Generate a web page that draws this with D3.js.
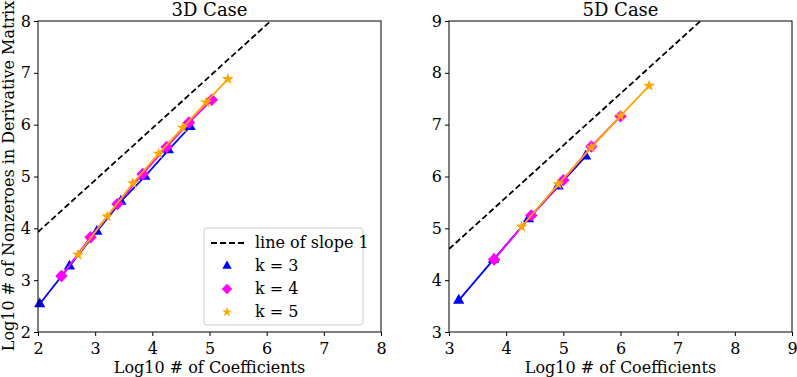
<!DOCTYPE html>
<html>
<head>
<meta charset="utf-8">
<script src="https://cdn.jsdelivr.net/npm/d3@7"></script>
<style>
  body { margin: 0; background: #fff; }
  svg text { font-family: "DejaVu Serif", serif; fill: #000; }
</style>
</head>
<body>
<svg id="chart" width="797" height="377"></svg>
<script>
// 3D case
var x3d_k3 = [2.03, 2.55, 3.03, 3.45, 3.87, 4.28, 4.66];
var y3d_k3 = [2.54, 3.27, 3.94, 4.52, 5.00, 5.51, 5.96];
var x3d_k4 = [2.41, 2.92, 3.39, 3.83, 4.25, 4.64, 5.04];
var y3d_k4 = [3.08, 3.83, 4.47, 5.05, 5.57, 6.04, 6.48];
var x3d_k5 = [2.70, 3.21, 3.66, 4.11, 4.53, 4.94, 5.32];
var y3d_k5 = [3.49, 4.23, 4.87, 5.44, 5.94, 6.43, 6.88];
var slope3d = [[2, 3.93], [8, 9.93]];

// 5D case
var x5d_k3 = [3.17, 3.78, 4.39, 4.91, 5.39];
var y5d_k3 = [3.61, 4.40, 5.18, 5.81, 6.39];
var x5d_k4 = [3.79, 4.44, 5.00, 5.49, 6.00];
var y5d_k4 = [4.40, 5.25, 5.93, 6.58, 7.16];
var x5d_k5 = [4.27, 4.91, 5.49, 6.00, 6.50];
var y5d_k5 = [5.03, 5.85, 6.56, 7.17, 7.75];
var slope5d = [[3, 4.60], [9, 10.60]];

var ticks3d = [2, 3, 4, 5, 6, 7, 8];
var ticks5d = [3, 4, 5, 6, 7, 8, 9];

var legendLabels = ["line of slope 1", "k = 3", "k = 4", "k = 5"];

// matplotlib style diamond: square turned 45 degrees
var squareDiamond = {
  draw: function (ctx, size) {
    var r = Math.sqrt(size / 2);
    ctx.moveTo(0, -r);
    ctx.lineTo(r, 0);
    ctx.lineTo(0, r);
    ctx.lineTo(-r, 0);
    ctx.closePath();
  }
};

var series = [
  { color: "#0000ff", shape: d3.symbolTriangle, size: 55 },
  { color: "#ff00ff", shape: squareDiamond, size: 78 },
  { color: "#ffa500", shape: d3.symbolStar, size: 44 }
];

var svg = d3.select("#chart");

function zip(xs, ys) {
  return xs.map(function (x, i) { return [x, ys[i]]; });
}

function drawPanel(opts) {
  var x = d3.scaleLinear().domain(opts.domain).range([opts.left, opts.right]);
  var y = d3.scaleLinear().domain(opts.domain).range([332, 21]);
  var g = svg.append("g");

  var clip = "clip" + opts.id;
  g.append("clipPath").attr("id", clip)
    .append("rect")
    .attr("x", opts.left).attr("y", 21)
    .attr("width", opts.right - opts.left).attr("height", 311);

  var line = d3.line().x(function (d) { return x(d[0]); }).y(function (d) { return y(d[1]); });

  g.append("path")
    .attr("clip-path", "url(#" + clip + ")")
    .attr("d", line(opts.slope))
    .attr("fill", "none")
    .attr("stroke", "#000")
    .attr("stroke-width", 1.8)
    .attr("stroke-dasharray", "6,3");

  opts.data.forEach(function (pts, i) {
    var s = series[i];
    g.append("path")
      .attr("d", line(pts))
      .attr("fill", "none")
      .attr("stroke", s.color)
      .attr("stroke-width", 1.8);
    g.selectAll(null).data(pts).enter().append("path")
      .attr("d", d3.symbol().type(s.shape).size(s.size))
      .attr("transform", function (d) { return "translate(" + x(d[0]) + "," + y(d[1]) + ")"; })
      .attr("fill", s.color);
  });

  // frame
  g.append("rect")
    .attr("x", opts.left).attr("y", 21)
    .attr("width", opts.right - opts.left).attr("height", 311)
    .attr("fill", "none").attr("stroke", "#000").attr("stroke-width", 1);

  var xAxis = g.append("g").attr("transform", "translate(0,332)")
    .call(d3.axisBottom(x).tickValues(opts.ticks).tickFormat(d3.format("d")).tickSize(4).tickPadding(6.5));
  var yAxis = g.append("g").attr("transform", "translate(" + opts.left + ",0)")
    .call(d3.axisLeft(y).tickValues(opts.ticks).tickFormat(d3.format("d")).tickSize(4).tickPadding(3));
  [xAxis, yAxis].forEach(function (a) {
    a.select(".domain").remove();
    a.selectAll("text").style("font-family", "DejaVu Serif").style("font-size", "16px");
    a.selectAll("line").attr("stroke", "#000");
  });

  g.append("text")
    .attr("x", (opts.left + opts.right) / 2).attr("y", 16)
    .attr("text-anchor", "middle")
    .style("font-size", "18px")
    .text(opts.title);

  g.append("text")
    .attr("x", (opts.left + opts.right) / 2).attr("y", 373)
    .attr("text-anchor", "middle")
    .style("font-size", "16px")
    .text("Log10 # of Coefficients");

  return { x: x, y: y };
}

drawPanel({
  id: "a", left: 38, right: 381, domain: [2, 8], ticks: ticks3d, title: "3D Case",
  slope: slope3d,
  data: [zip(x3d_k3, y3d_k3), zip(x3d_k4, y3d_k4), zip(x3d_k5, y3d_k5)]
});
drawPanel({
  id: "b", left: 449, right: 792, domain: [3, 9], ticks: ticks5d, title: "5D Case",
  slope: slope5d,
  data: [zip(x5d_k3, y5d_k3), zip(x5d_k4, y5d_k4), zip(x5d_k5, y5d_k5)]
});

svg.append("text")
  .attr("transform", "translate(14,176) rotate(-90)")
  .attr("text-anchor", "middle")
  .style("font-size", "16px")
  .text("Log10 # of Nonzeroes in Derivative Matrix");

// legend
var lg = svg.append("g").attr("transform", "translate(204,228)");
lg.append("rect")
  .attr("width", 159).attr("height", 97).attr("rx", 3)
  .attr("fill", "#fff").attr("fill-opacity", 0.8)
  .attr("stroke", "#ccc").attr("stroke-width", 1);
legendLabels.forEach(function (lab, i) {
  var cy = 15 + i * 23;
  if (i === 0) {
    lg.append("line")
      .attr("x1", 7).attr("x2", 41).attr("y1", cy).attr("y2", cy)
      .attr("stroke", "#000").attr("stroke-width", 1.8)
      .attr("stroke-dasharray", "6,3");
  } else {
    var s = series[i - 1];
    lg.append("path")
      .attr("d", d3.symbol().type(s.shape).size(s.size * 0.7))
      .attr("transform", "translate(23," + cy + ")")
      .attr("fill", s.color);
  }
  lg.append("text")
    .attr("x", 51).attr("y", cy + 5)
    .style("font-size", "16px")
    .text(lab);
});
</script>
</body>
</html>
